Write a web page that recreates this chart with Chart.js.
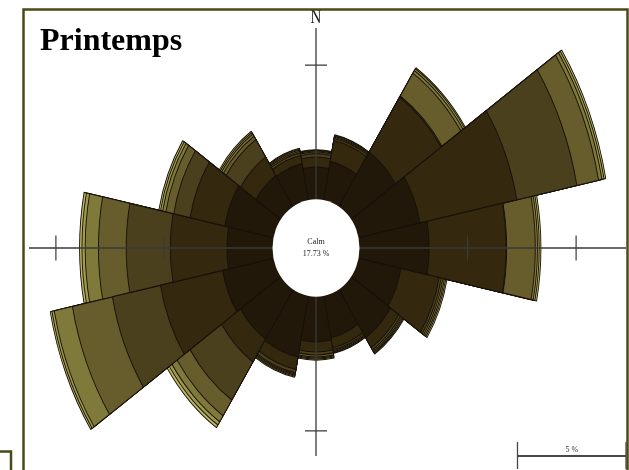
<!DOCTYPE html>
<html lang="fr">
<head>
<meta charset="utf-8">
<title>Rose des vents – Printemps</title>
<script src="https://cdn.jsdelivr.net/npm/chart.js@4.4.1/dist/chart.umd.min.js"></script>
<style>
  html, body { margin: 0; padding: 0; background: #ffffff; }
  canvas { display: block; }
</style>
</head>
<body>
<canvas id="rose" width="629" height="470"></canvas>
<script>
// Directions (16 secteurs, sens horaire depuis le nord)
const directions = ['N', 'NNE', 'NE', 'ENE', 'E', 'ESE', 'SE', 'SSE',
                    'S', 'SSW', 'SW', 'WSW', 'W', 'WNW', 'NW', 'NNW'];

// Fréquences (%) par classe de vitesse, de la plus faible à la plus forte
const classe1 = [1.11, 1.38, 2.42, 2.90, 3.23, 2.00, 2.14, 1.51, 1.60, 2.26, 2.20, 2.40, 2.12, 2.30, 1.35, 1.30];
const classe2 = [0.38, 0.82, 2.53, 4.55, 3.54, 1.80, 0.46, 0.39, 0.39, 0.49, 1.05, 2.92, 2.61, 1.63, 0.85, 0.32];
const classe3 = [0.13, 0.08, 0.05, 2.82, 0.03, 0.10, 0.10, 0.07, 0.11, 0.13, 1.75, 2.26, 2.03, 0.77, 0.80, 0.10];
const classe4 = [0.06, 0.05, 1.05, 1.02, 1.32, 0.08, 0.06, 0.05, 0.08, 0.05, 0.72, 1.88, 1.28, 0.37, 0.15, 0.06];
const classe5 = [0.04, 0.04, 0.12, 0.16, 0.10, 0.07, 0.05, 0.04, 0.04, 0.04, 0.28, 0.85, 0.61, 0.15, 0.10, 0.05];
const classe6 = [0.03, 0.03, 0.08, 0.10, 0.08, 0.06, 0.04, 0.03, 0.04, 0.04, 0.15, 0.11, 0.15, 0.10, 0.07, 0.04];
const classe7 = [0.02, 0.02, 0.05, 0.08, 0.08, 0.06, 0.04, 0.03, 0.04, 0.04, 0.12, 0.08, 0.11, 0.08, 0.06, 0.03];

const calmPercent = 17.73;
const axisTicks = [5, 10];   // repères (%) sur les axes
const scaleBarValue = 5;     // barre d'échelle (%)

const speedClasses = [classe1, classe2, classe3, classe4, classe5, classe6, classe7];
const classColors = ['#21180a', '#34280f', '#4b401e', '#675c2b', '#7f793a', '#9f9a4c', '#bdb865'];

// Géométrie de la rose
const PX_PER_PERCENT = 21.7;  // rayon horizontal par %
const CALM_RADIUS = 43.1;     // rayon du disque des calmes
const STRETCH_Y = 1.206;      // étirement vertical de la rose
const DRAW_RADIUS = 200;      // drawingArea de l'échelle radiale
const R_MIN = -CALM_RADIUS / PX_PER_PERCENT;
const R_MAX = R_MIN + DRAW_RADIUS / PX_PER_PERCENT;

// Empilement : chaque jeu de données couvre les classes 1..k
const cumulative = speedClasses.map((_, k) =>
  directions.map((_, i) => speedClasses.slice(0, k + 1).reduce((s, c) => s + c[i], 0))
);

const datasets = cumulative.map((vals, k) => ({
  label: 'Classe ' + (k + 1),
  data: vals,
  backgroundColor: classColors[k],
  borderColor: '#17110a',
  borderWidth: 0.9,
  clip: false
}));

const roseDecor = {
  id: 'roseDecor',
  beforeDatasetsDraw(chart) {
    const ctx = chart.ctx, r = chart.scales.r;
    ctx.save();
    ctx.translate(r.xCenter, r.yCenter);
    ctx.scale(1, STRETCH_Y);
    ctx.translate(-r.xCenter, -r.yCenter);
  },
  afterDatasetsDraw(chart) {
    const ctx = chart.ctx, r = chart.scales.r;
    ctx.restore();
    const cx = r.xCenter, cy = r.yCenter;
    const dist = v => r.getDistanceFromCenterForValue(v);

    // Axes en croix
    ctx.save();
    ctx.strokeStyle = '#3a3a3a';
    ctx.lineWidth = 1.3;
    ctx.beginPath();
    ctx.moveTo(29, cy); ctx.lineTo(626, cy);
    ctx.moveTo(cx, 28); ctx.lineTo(cx, 456);
    ctx.stroke();

    // Repères
    ctx.lineWidth = 1.2;
    ctx.beginPath();
    axisTicks.forEach(v => {
      const dx = dist(v);
      [cx - dx, cx + dx].forEach(x => { ctx.moveTo(x, cy - 12.5); ctx.lineTo(x, cy + 12.5); });
      const dy = dx * STRETCH_Y;
      [cy - dy, cy + dy].forEach(y => {
        if (y > 28 && y < 456) { ctx.moveTo(cx - 11, y); ctx.lineTo(cx + 11, y); }
      });
    });
    ctx.stroke();

    // Disque des calmes
    const r0 = dist(0);
    ctx.fillStyle = '#ffffff';
    ctx.beginPath();
    ctx.ellipse(cx, cy, r0 + 0.4, r0 * 1.13, 0, 0, Math.PI * 2);
    ctx.fill();

    ctx.fillStyle = '#222222';
    ctx.font = '8px "Liberation Serif", serif';
    ctx.textAlign = 'center';
    ctx.textBaseline = 'middle';
    ctx.fillText('Calm', cx, cy - 6);
    ctx.fillText(calmPercent.toFixed(2) + ' %', cx, cy + 6);

    // Nord
    ctx.save();
    ctx.translate(cx, 23.3);
    ctx.scale(1, 1.2);
    ctx.font = '15px "Liberation Serif", serif';
    ctx.textBaseline = 'alphabetic';
    ctx.fillStyle = '#111111';
    ctx.fillText('N', 0, 0);
    ctx.restore();

    // Barre d'échelle
    const barLen = dist(scaleBarValue) - dist(0);
    const xR = 626, xL = xR - barLen, yB = 456;
    ctx.strokeStyle = '#474747';
    ctx.lineWidth = 2;
    ctx.beginPath();
    ctx.moveTo(xL, yB); ctx.lineTo(xR, yB);
    ctx.stroke();
    ctx.lineWidth = 1.3;
    ctx.beginPath();
    ctx.moveTo(xL, 442); ctx.lineTo(xL, 469);
    ctx.moveTo(xR, 442); ctx.lineTo(xR, 469);
    ctx.stroke();
    ctx.fillStyle = '#333333';
    ctx.font = '8px "Liberation Serif", serif';
    ctx.textBaseline = 'alphabetic';
    ctx.fillText(scaleBarValue + ' %', (xL + xR) / 2, 452);

    // Titre
    ctx.textAlign = 'left';
    ctx.fillStyle = '#000000';
    ctx.font = 'bold 32px "Liberation Serif", serif';
    ctx.fillText('Printemps', 40, 50);

    // Cadres
    ctx.strokeStyle = '#4b4a17';
    ctx.lineWidth = 2.5;
    ctx.strokeRect(23.5, 9.5, 604, 470);
    ctx.beginPath();
    ctx.moveTo(0, 451.5); ctx.lineTo(11, 451.5); ctx.lineTo(11, 472);
    ctx.stroke();
    ctx.restore();
  }
};

new Chart(document.getElementById('rose'), {
  type: 'polarArea',
  data: { labels: directions, datasets },
  options: {
    responsive: false,
    animation: false,
    events: [],
    layout: { padding: { left: 116, right: 113, top: 48, bottom: 22 } },
    plugins: {
      legend: { display: false },
      tooltip: { enabled: false },
      title: { display: false }
    },
    scales: {
      r: {
        display: false,
        min: R_MIN,
        max: R_MAX,
        beginAtZero: false,
        startAngle: -11.25,
        grid: { display: false },
        angleLines: { display: false },
        ticks: { display: false },
        pointLabels: { display: false }
      }
    }
  },
  plugins: [roseDecor]
});
</script>
</body>
</html>
